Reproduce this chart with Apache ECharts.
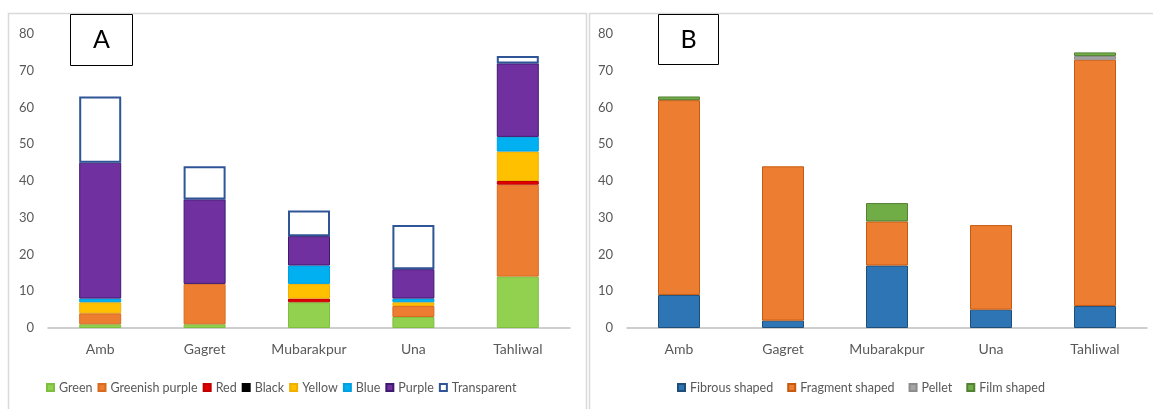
<!DOCTYPE html>
<html>
<head>
<meta charset="utf-8">
<script src="https://cdn.jsdelivr.net/npm/echarts@6/dist/echarts.min.js"></script>
<style>html,body{margin:0;padding:0;background:#fff;}#c{width:1153px;height:409px;}</style>
</head>
<body>
<div id="c"></div>
<script>
var categories = ['Amb', 'Gagret', 'Mubarakpur', 'Una', 'Tahliwal'];
var yTicks = [0, 10, 20, 30, 40, 50, 60, 70, 80];

// Panel A: colour of microplastics
var green          = [1, 1, 7, 3, 14];
var greenishPurple = [3, 11, 0, 3, 25];
var red            = [0, 0, 1, 0, 1];
var black          = [0, 0, 0, 0, 0];
var yellow         = [3, 0, 4, 1, 8];
var blue           = [1, 0, 5, 1, 4];
var purple         = [37, 23, 8, 8, 20];
var transparent    = [18, 9, 7, 12, 2];

// Panel B: shape of microplastics
var fibrous  = [9, 2, 17, 5, 6];
var fragment = [53, 42, 12, 23, 67];
var pellet   = [0, 0, 0, 0, 1];
var film     = [1, 0, 5, 0, 1];

var FONT = 'Lato';
var LBL = '#595959';

function bar(name, data, color, border, gi, stack, bw) {
  return {
    name: name, type: 'bar', stack: stack,
    data: data.map(function (v) { return v === 0 ? null : v; }),
    xAxisIndex: gi, yAxisIndex: gi, barWidth: 42,
    itemStyle: { color: color, borderColor: border, borderWidth: bw == null ? 1 : bw },
    emphasis: { disabled: true }
  };
}

var chart = echarts.init(document.getElementById('c'), null, { renderer: 'canvas' });
var yMin = yTicks[0], yMax = yTicks[yTicks.length - 1], yStep = yTicks[1] - yTicks[0];

function xAx(gi) {
  return {
    type: 'category', gridIndex: gi, data: categories,
    axisTick: { show: false },
    axisLine: { lineStyle: { color: '#BFBFBF', width: 1.5 } },
    axisLabel: { color: LBL, fontFamily: FONT, fontSize: 14, margin: 14 }
  };
}
function yAx(gi) {
  return {
    type: 'value', gridIndex: gi, min: yMin, max: yMax, interval: yStep,
    splitLine: { show: false }, axisLine: { show: false }, axisTick: { show: false },
    axisLabel: { color: LBL, fontFamily: FONT, fontSize: 13, margin: 14 }
  };
}

chart.setOption({
  animation: false,
  backgroundColor: '#fff',
  grid: [
    { left: 48, right: 583, top: 34, bottom: 81 },
    { left: 627, right: 6, top: 34, bottom: 81 }
  ],
  xAxis: [xAx(0), xAx(1)],
  yAxis: [yAx(0), yAx(1)],
  legend: [
    {
      left: 41, top: 376, itemWidth: 7, itemHeight: 7, itemGap: 5, icon: 'rect',
      data: ['Green', 'Greenish purple', 'Red', 'Black', 'Yellow', 'Blue', 'Purple', 'Transparent'],
      textStyle: { color: LBL, fontFamily: FONT, fontSize: 12.5 },
      selectedMode: false
    },
    {
      left: 672, top: 376, itemWidth: 7, itemHeight: 7, itemGap: 14, icon: 'rect',
      data: ['Fibrous shaped', 'Fragment shaped', 'Pellet', 'Film shaped'],
      textStyle: { color: LBL, fontFamily: FONT, fontSize: 12.5 },
      selectedMode: false
    }
  ],
  graphic: [
    { type: 'rect', shape: { x: 8.5, y: 13.5, width: 578, height: 420 }, style: { fill: 'none', stroke: '#D9D9D9', lineWidth: 1.5 }, silent: true },
    { type: 'rect', shape: { x: 589.5, y: 13.5, width: 600, height: 420 }, style: { fill: 'none', stroke: '#D9D9D9', lineWidth: 1.5 }, silent: true },
    { type: 'rect', shape: { x: 70.5, y: 14.5, width: 62, height: 51 }, style: { fill: '#fff', stroke: '#000', lineWidth: 1 }, silent: true, z: 10 },
    { type: 'text', x: 101.5, y: 40, style: { text: 'A', fill: '#000', font: '25px Lato', align: 'center', verticalAlign: 'middle' }, silent: true, z: 11 },
    { type: 'rect', shape: { x: 658.5, y: 14.5, width: 60, height: 50 }, style: { fill: '#fff', stroke: '#000', lineWidth: 1 }, silent: true, z: 10 },
    { type: 'text', x: 688.5, y: 40, style: { text: 'B', fill: '#000', font: '25px Lato', align: 'center', verticalAlign: 'middle' }, silent: true, z: 11 }
  ],
  series: [
    bar('Green', green, '#92D050', '#7FBF40', 0, 'a'),
    bar('Greenish purple', greenishPurple, '#ED7D31', '#D86A20', 0, 'a'),
    bar('Red', red, '#E00000', '#C00000', 0, 'a'),
    bar('Black', black, '#000000', '#000000', 0, 'a'),
    bar('Yellow', yellow, '#FFC000', '#F0B000', 0, 'a'),
    bar('Blue', blue, '#00B0F0', '#00A0E0', 0, 'a'),
    bar('Purple', purple, '#7030A0', '#3D1A6E', 0, 'a'),
    bar('Transparent', transparent, '#FFFFFF', '#2F5597', 0, 'a', 2),
    bar('Fibrous shaped', fibrous, '#2E75B6', '#1F4E79', 1, 'b'),
    bar('Fragment shaped', fragment, '#ED7D31', '#C55A11', 1, 'b'),
    bar('Pellet', pellet, '#A5A5A5', '#8C8C8C', 1, 'b'),
    bar('Film shaped', film, '#70AD47', '#548235', 1, 'b')
  ]
});
</script>
</body>
</html>
